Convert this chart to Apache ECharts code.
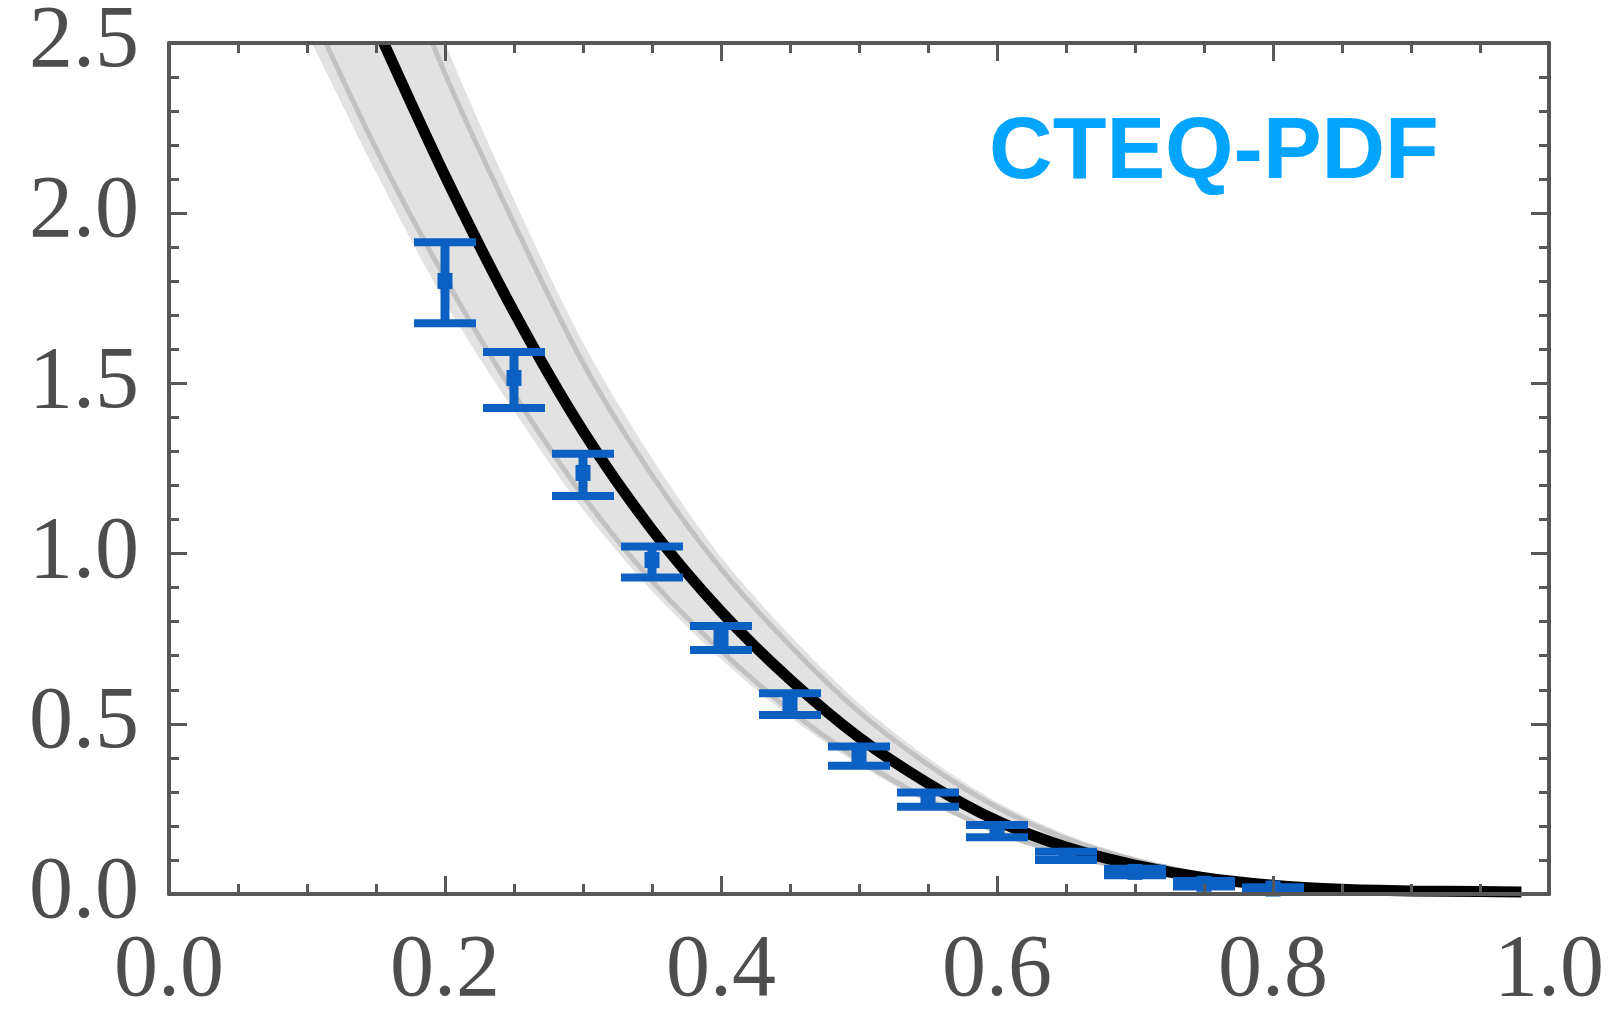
<!DOCTYPE html>
<html>
<head>
<meta charset="utf-8">
<title>CTEQ-PDF</title>
<script src="https://cdn.jsdelivr.net/npm/echarts@6/dist/echarts.min.js"></script>
<style>
  html, body { margin: 0; padding: 0; background: #fff; }
  #main { width: 1608px; height: 1015px; }
</style>
</head>
<body>
<div id="main"></div>
<script>
// data points with error bars
const pointX  = [0.2, 0.25, 0.3, 0.35, 0.4, 0.45, 0.5, 0.55, 0.6, 0.65, 0.7, 0.75, 0.8];
const pointY  = [1.801, 1.516, 1.237, 0.981, 0.752, 0.561, 0.405, 0.278, 0.186, 0.112, 0.065, 0.030, 0.016];
const pointLo = [1.677, 1.428, 1.169, 0.930, 0.717, 0.526, 0.377, 0.256, 0.167, 0.100, 0.055, 0.022, 0.012];
const pointHi = [1.915, 1.592, 1.293, 1.021, 0.787, 0.590, 0.433, 0.298, 0.203, 0.124, 0.074, 0.038, 0.020];

// central CTEQ curve
const curveX = [0.15, 0.2, 0.25, 0.3, 0.35, 0.4, 0.45, 0.5, 0.55, 0.6, 0.65, 0.7, 0.75, 0.8, 0.85, 0.9, 0.95, 0.98];
const curveY = [2.55, 2.11, 1.71, 1.36, 1.07, 0.83, 0.63, 0.46, 0.325, 0.215, 0.138, 0.085, 0.048, 0.026, 0.014, 0.009, 0.007, 0.006];

// uncertainty band (outer edge and darker inner edge)
const bandX       = [0.1, 0.15, 0.2, 0.25, 0.3, 0.35, 0.4, 0.45, 0.5, 0.55, 0.6, 0.65, 0.7, 0.75, 0.8, 0.85, 0.9, 0.95, 0.98];
const bandOuterHi = [3.63, 3.03, 2.50, 2.04, 1.62, 1.28, 0.99, 0.76, 0.56, 0.40, 0.27, 0.175, 0.108, 0.062, 0.034, 0.018, 0.010, 0.007, 0.006];
const bandInnerHi = [3.51, 2.93, 2.41, 1.97, 1.56, 1.23, 0.955, 0.73, 0.535, 0.38, 0.255, 0.163, 0.100, 0.057, 0.031, 0.016, 0.009, 0.006, 0.005];
const bandInnerLo = [2.62, 2.19, 1.81, 1.47, 1.17, 0.92, 0.715, 0.54, 0.395, 0.278, 0.183, 0.117, 0.071, 0.040, 0.020, 0.010, 0.005, 0.003, 0.003];
const bandOuterLo = [2.53, 2.12, 1.74, 1.42, 1.13, 0.89, 0.69, 0.52, 0.38, 0.268, 0.177, 0.112, 0.069, 0.039, 0.019, 0.009, 0.004, 0.002, 0.002];

const xTicks = [0, 1, 0.2];
const yTicks = [0, 2.5, 0.5];

const axisColor = '#575757';
const labelFont = 'Liberation Serif, Times New Roman, serif';

function pairs(xs, ys) {
  return xs.map((x, i) => [x, ys[i]]);
}

function renderBar(params, api) {
  const x = api.value(0);
  const c = api.coord([x, api.value(1)]);
  const lo = api.coord([x, api.value(2)]);
  const hi = api.coord([x, api.value(3)]);
  const style = { fill: '#0b60c1' };
  return {
    type: 'group',
    children: [
      { type: 'rect', shape: { x: c[0] - 4.5, y: hi[1], width: 9, height: lo[1] - hi[1] }, style: style },
      { type: 'rect', shape: { x: c[0] - 31, y: hi[1] - 4, width: 62, height: 8 }, style: style },
      { type: 'rect', shape: { x: c[0] - 31, y: lo[1] - 4, width: 62, height: 8 }, style: style },
      { type: 'rect', shape: { x: c[0] - 7.5, y: c[1] - 8, width: 15, height: 16 }, style: style }
    ]
  };
}

function makeX(pos, showLabel) {
  return {
    type: 'value', position: pos, min: xTicks[0], max: xTicks[1], interval: xTicks[2], z: 10,
    axisLine: { show: true, onZero: false, lineStyle: { color: axisColor, width: 4 } },
    axisTick: { show: true, inside: true, length: 18, lineStyle: { color: axisColor, width: 3 } },
    minorTick: { show: true, splitNumber: 4, length: 10, lineStyle: { color: axisColor, width: 3 } },
    splitLine: { show: false },
    axisLabel: {
      show: showLabel, margin: 34, fontSize: 88, fontFamily: labelFont, color: '#4d4d4d',
      formatter: v => v.toFixed(1)
    }
  };
}

function makeY(pos, showLabel) {
  return {
    type: 'value', position: pos, min: yTicks[0], max: yTicks[1], interval: yTicks[2], z: 10,
    axisLine: { show: true, onZero: false, lineStyle: { color: axisColor, width: 4 } },
    axisTick: { show: true, inside: true, length: 18, lineStyle: { color: axisColor, width: 3 } },
    minorTick: { show: true, splitNumber: 5, length: 10, lineStyle: { color: axisColor, width: 3 } },
    splitLine: { show: false },
    axisLabel: {
      show: showLabel, margin: 30, fontSize: 88, fontFamily: labelFont, color: '#4d4d4d',
      formatter: v => v.toFixed(1)
    }
  };
}

const chart = echarts.init(document.getElementById('main'));

const option = {
  animation: false,
  backgroundColor: '#ffffff',
  grid: { left: 169, right: 59, top: 43, bottom: 121, outerBoundsMode: 'none', containLabel: false },
  xAxis: [makeX('bottom', true), makeX('top', false)],
  yAxis: [makeY('left', true), makeY('right', false)],
  graphic: [
    {
      // hide the bit of the thick curve that pokes out above the frame
      type: 'rect', z: 6, silent: true,
      shape: { x: 172, y: 0, width: 1374, height: 41 },
      style: { fill: '#ffffff' }
    },
    {
      type: 'text', x: 1214, y: 154, z: 20,
      style: {
        text: 'CTEQ-PDF', fill: '#02a4fe', align: 'center', verticalAlign: 'middle',
        font: 'bold 88px "Liberation Sans", Arial, sans-serif'
      }
    }
  ],
  series: [
    {
      // grey band filled down to zero, then the part under the lower edge is painted white
      name: 'bandTop', type: 'line', smooth: 0.3, symbol: 'none', z: 1,
      lineStyle: { width: 0, opacity: 0 },
      areaStyle: { color: '#e2e2e2', opacity: 1 },
      data: pairs(bandX, bandOuterHi)
    },
    {
      name: 'bandBottom', type: 'line', smooth: 0.3, symbol: 'none', z: 1,
      lineStyle: { width: 0, opacity: 0 },
      areaStyle: { color: '#ffffff', opacity: 1 },
      data: pairs(bandX, bandOuterLo)
    },
    {
      name: 'bandHi', type: 'line', smooth: 0.3, symbol: 'none', z: 2,
      lineStyle: { color: '#c2c2c2', width: 5 },
      data: pairs(bandX, bandInnerHi)
    },
    {
      name: 'bandLo', type: 'line', smooth: 0.3, symbol: 'none', z: 2,
      lineStyle: { color: '#c2c2c2', width: 5 },
      data: pairs(bandX, bandInnerLo)
    },
    {
      name: 'CTEQ', type: 'line', smooth: 0.3, symbol: 'none', z: 3,
      lineStyle: { color: '#000000', width: 11 },
      data: pairs(curveX, curveY)
    },
    {
      name: 'data', type: 'custom', renderItem: renderBar, z: 5,
      encode: { x: 0, y: [1, 2, 3] },
      data: pointX.map((x, i) => [x, pointY[i], pointLo[i], pointHi[i]])
    }
  ]
};

chart.setOption(option);
</script>
</body>
</html>
